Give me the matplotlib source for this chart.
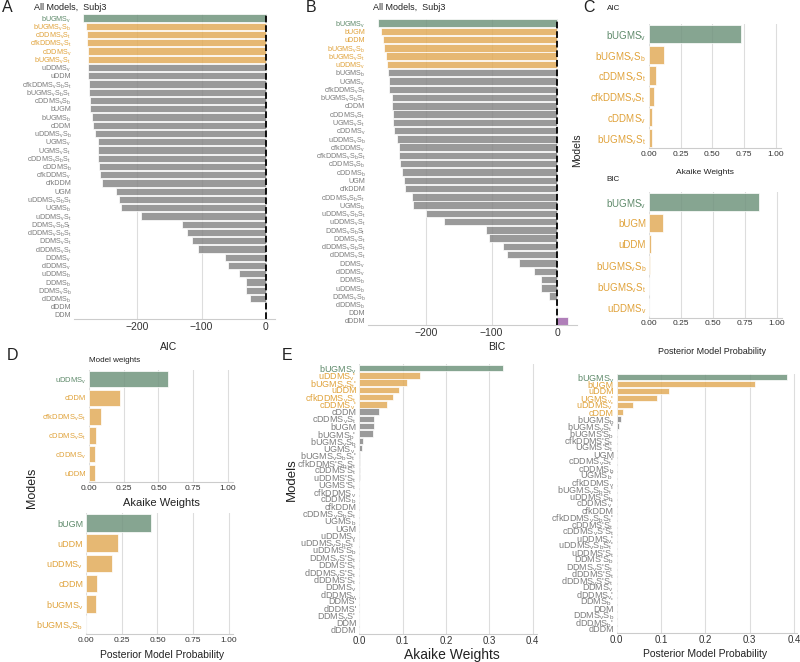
import re
import matplotlib
matplotlib.use("Agg")
import matplotlib.pyplot as plt

plt.rcParams['font.family'] = ['Liberation Sans', 'DejaVu Sans']
plt.rcParams['mathtext.fontset'] = 'custom'
plt.rcParams['mathtext.rm'] = 'Liberation Sans'
plt.rcParams['mathtext.it'] = 'Liberation Sans'
plt.rcParams['mathtext.default'] = 'regular'

# ---------------- data ----------------
a_models = ["bUGMS_v", "bUGMS_vS_b", "cDDMS_vS_t", "cfkDDMS_vS_t", "cDDMS_v", "bUGMS_vS_t",
            "uDDMS_v", "uDDM", "cfkDDMS_vS_bS_t", "bUGMS_vS_bS_t", "cDDMS_vS_b", "bUGM",
            "bUGMS_b", "cDDM", "uDDMS_vS_b", "UGMS_v", "UGMS_vS_t", "cDDMS_vS_bS_t",
            "cDDMS_b", "cfkDDMS_v", "cfkDDM", "UGM", "uDDMS_vS_bS_t", "UGMS_b",
            "uDDMS_vS_t", "DDMS_vS_bS_t", "dDDMS_vS_bS_t", "DDMS_vS_t", "dDDMS_vS_t",
            "DDMS_v", "dDDMS_v", "uDDMS_b", "DDMS_b", "DDMS_vS_b", "dDDMS_b", "dDDM", "DDM"]
a_aic = [-283.7, -279.6, -278.0, -278.0, -277.0, -277.0, -276.5, -275.5, -274.4, -274.4,
         -273.9, -273.4, -269.3, -268.7, -265.1, -261.5, -261.0, -261.0, -258.9, -257.4,
         -254.8, -233.0, -227.4, -225.8, -194.3, -130.7, -122.9, -115.2, -105.4, -64.1,
         -58.9, -41.9, -31.5, -30.5, -24.3, -1.0, 0.0]

b_models = ["bUGMS_v", "bUGM", "uDDM", "bUGMS_vS_b", "bUGMS_vS_t", "uDDMS_v", "bUGMS_b",
            "UGMS_v", "cfkDDMS_vS_t", "bUGMS_vS_bS_t", "cDDM", "cDDMS_vS_t", "UGMS_vS_t",
            "cDDMS_v", "uDDMS_vS_b", "cfkDDMS_v", "cfkDDMS_vS_bS_t", "cDDMS_vS_b", "cDDMS_b",
            "UGM", "cfkDDM", "cDDMS_vS_bS_t", "UGMS_b", "uDDMS_vS_bS_t", "uDDMS_vS_t",
            "DDMS_vS_bS_t", "DDMS_vS_t", "dDDMS_vS_bS_t", "dDDMS_vS_t", "DDMS_v", "dDDMS_v",
            "DDMS_b", "uDDMS_b", "DDMS_vS_b", "dDDMS_b", "DDM", "dDDM"]
b_bic = [-272.9, -268.8, -264.7, -263.7, -260.7, -259.7, -258.1, -256.6, -255.6, -252.0,
         -251.5, -250.5, -250.0, -249.0, -243.4, -241.4, -240.9, -239.8, -236.8, -233.7,
         -232.2, -220.5, -220.0, -199.2, -171.7, -107.7, -104.2, -82.3, -76.2, -58.9,
         -35.6, -24.9, -24.4, -12.7, -1.5, -0.5, 16.0]

c_aic_models = ["bUGMS_v", "bUGMS_vS_b", "cDDMS_vS_t", "cfkDDMS_vS_t", "cDDMS_v", "bUGMS_vS_t"]
c_aic_w = [0.727, 0.123, 0.055, 0.045, 0.026, 0.026]
c_bic_models = ["bUGMS_v", "bUGM", "uDDM", "bUGMS_vS_b", "bUGMS_vS_t", "uDDMS_v"]
c_bic_p = [0.861, 0.113, 0.013, 0.010, 0.002, 0.001]

d_aic_models = ["uDDMS_v", "cDDM", "cfkDDMS_vS_t", "cDDMS_vS_t", "cDDMS_v", "uDDM"]
d_aic_w = [0.568, 0.225, 0.084, 0.053, 0.043, 0.041]
d_bic_models = ["bUGM", "uDDM", "uDDMS_v", "cDDM", "bUGMS_v", "bUGMS_vS_b"]
d_bic_p = [0.453, 0.223, 0.181, 0.074, 0.072, 0.003]

e_aic_models = ["bUGMS_v", "uDDMS_v'", "bUGMS_vS_t'", "uDDM", "cfkDDMS_vS_t", "cDDMS_v'",
                "cDDM", "cDDMS_vS_t", "bUGM", "bUGMS_b'", "bUGMS_vS_b", "UGMS_v'",
                "bUGMS_vS_bS_t'", "cfkDDMS'S_bS_t", "cDDMS'S_t", "uDDMS'S_t", "UGMS'S_t",
                "cfkDDMS_v", "cDDMS_b", "cfkDDM", "cDDMS_vS_bS_t", "UGMS_b", "UGM", "uDDMS_v",
                "uDDMS_vS_bS_t'", "uDDMS'S_b", "DDMS_vS'S_t", "DDMS'S_t", "dDDMS_vS'S_t",
                "dDDMS'S_t", "DDMS_v", "dDDMS_v", "DDMS'", "dDDMS'", "DDMS_vS'", "DDM", "dDDM"]
e_aic_w = [0.332, 0.140, 0.109, 0.092, 0.077, 0.064, 0.045, 0.035, 0.035, 0.031, 0.0085,
           0.006, 0.0015, 0.001, 0.0006, 0.0005, 0.0004, 0.0003, 0.0002, 0.0002, 0.0001,
           0.0001, 0.0001, 0, 0, 0, 0, 0, 0, 0, 0, 0, 0, 0, 0, 0, 0]

e_bic_models = ["bUGMS_v", "bUGM", "uDDM", "UGMS_v'", "uDDMS_v'", "cDDM", "bUGMS_b",
                "bUGMS_vS_t'", "bUGMS'S_b", "cfkDDMS'S_t", "UGMS'S_t", "UGM", "cDDMS_vS_t'",
                "cDDMS_b", "UGMS_b'", "cfkDDMS_v", "bUGMS_vS_bS_t'", "uDDMS'S_b", "cDDMS_v'",
                "cfkDDM", "cfkDDMS_vS_bS_t'", "cDDMS'S_t", "cDDMS_vS'S_t", "uDDMS_v'",
                "uDDMS_vS_bS_t'", "uDDMS'S_t", "DDMS'S_b", "DDMS_vS'S_t", "dDDMS'S_t",
                "dDDMS_vS'S_t", "DDMS_v", "dDDMS_v'", "DDMS_b'", "DDM", "DDMS_vS_b",
                "dDDMS_b'", "dDDM"]
e_bic_p = [0.385, 0.312, 0.117, 0.091, 0.036, 0.0135, 0.009, 0.006, 0.001, 0.0008, 0.0005,
           0.0003, 0.0002, 0.0001, 0, 0, 0, 0, 0, 0, 0, 0, 0, 0, 0, 0, 0, 0, 0, 0, 0, 0, 0,
           0, 0, 0, 0]

# ---------------- style ----------------
GREEN = '#71957e'
ORANGE = '#e2ac5a'
GRAY = '#888888'
PURPLE = '#a369ad'
LG = '#5f8a6b'
LO = '#e0a23a'
LGR = '#7c7c7c'
ALPHA = 0.85

W, H = 800, 662
fig = plt.figure(figsize=(8, 6.62), dpi=100)


def fmt(s):
    return re.sub(r'_(\w)', r'$_{\1}$', s)


def axpx(l, t, r, b):
    return fig.add_axes([l / W, 1 - b / H, (r - l) / W, (b - t) / H])


def barpanel(ax, names, vals, xlim, xticks, xfmt, ysize, xsize, n_orange=5,
             last_purple=False, height=0.88):
    n = len(vals)
    cols, lcols = [], []
    for i in range(n):
        if i == 0:
            cols.append(GREEN); lcols.append(LG)
        elif i <= n_orange:
            cols.append(ORANGE); lcols.append(LO)
        else:
            cols.append(GRAY); lcols.append(LGR)
    if last_purple:
        cols[-1] = PURPLE
    ax.barh(range(n), vals, height=height, color=cols, alpha=ALPHA,
            edgecolor='white', linewidth=0.6, zorder=2)
    ax.set_ylim(n - 0.5, -0.5)
    ax.set_xlim(*xlim)
    ax.set_yticks(range(n))
    ax.set_yticklabels([fmt(s) for s in names], fontsize=ysize)
    for t, c in zip(ax.get_yticklabels(), lcols):
        t.set_color(c)
    ax.set_xticks(xticks)
    ax.set_xticklabels([xfmt(v) for v in xticks], fontsize=xsize, color='#333333')
    ax.tick_params(length=0, pad=2)
    for s in ['top', 'right', 'left']:
        ax.spines[s].set_visible(False)
    ax.spines['bottom'].set_color('#cccccc')
    ax.spines['bottom'].set_linewidth(0.8)
    ax.grid(axis='x', color='#dddddd', linewidth=0.8, zorder=0)
    ax.set_axisbelow(True)


def intfmt(v):
    return '\u2212%d' % abs(v) if v < 0 else '%d' % v


# Panel A
axA = axpx(74, 13.9, 275, 319.1)
barpanel(axA, a_models, a_aic, (-298, 14), [-200, -100, 0], intfmt, 5.2, 7.5, height=0.9)
axA.axvline(0, color='black', linestyle='--', linewidth=1.3, zorder=3)

# Panel B
axB = axpx(368, 18.9, 577, 325.1)
barpanel(axB, b_models, b_bic, (-288, 30), [-200, -100, 0], intfmt, 5.2, 7.5,
         last_purple=True, height=0.9)
axB.axvline(0, color='black', linestyle='--', linewidth=1.3, zorder=3)

f2 = lambda v: '%.2f' % v
f1 = lambda v: '%.1f' % v
q = [0, 0.25, 0.5, 0.75, 1.0]

# Panel C
axC1 = axpx(648.7, 23.6, 781, 148.4)
barpanel(axC1, c_aic_models, c_aic_w, (0, 1.039), q, f2, 7, 6)
axC2 = axpx(649, 191.5, 782, 317.5)
barpanel(axC2, c_bic_models, c_bic_p, (0, 1.039), q, f2, 7, 6)

# Panel D
axD1 = axpx(89, 369.6, 233, 482.4)
barpanel(axD1, d_aic_models, d_aic_w, (0, 1.036), q, f2, 5.5, 6)
axD2 = axpx(86, 513, 233, 634)
barpanel(axD2, d_bic_models, d_bic_p, (0, 1.028), q, f2, 6.5, 6)

# Panel E
axE1 = axpx(359.3, 364.4, 537, 633.6)
barpanel(axE1, e_aic_models, e_aic_w, (0, 0.41), [0, 0.1, 0.2, 0.3, 0.4], f1, 6.5, 7)
axE2 = axpx(616.7, 373.5, 797, 632.5)
barpanel(axE2, e_bic_models, e_bic_p, (0, 0.407), [0, 0.1, 0.2, 0.3, 0.4], f1, 6.5, 7)


def ft(x, y, s, size, ha='center', va='center', rot=0, color='#222222'):
    fig.text(x / W, 1 - y / H, s, fontsize=size, ha=ha, va=va, rotation=rot, color=color)


# panel letters
ft(2, 8, 'A', 11.5, ha='left')
ft(306, 8, 'B', 11.5, ha='left')
ft(583, 8, 'C', 11.5, ha='left')
ft(7, 355, 'D', 11.5, ha='left')
ft(282, 356, 'E', 11.5, ha='left')

# titles
ft(34, 7, 'All Models,  Subj3', 6.5, ha='left')
ft(373, 7, 'All Models,  Subj3', 6.5, ha='left')
ft(607, 9, 'AIC', 5.8, ha='left')
ft(606, 180, 'BIC', 5.8, ha='left')
ft(89, 360, 'Model weights', 5.8, ha='left')

# axis labels
ft(169, 347, 'AIC', 7.5)
ft(497, 347, 'BIC', 7.5)
ft(705, 173, 'Akaike Weights', 6)
ft(712, 352, 'Posterior Model Probability', 6.5)
ft(577, 150, 'Models', 7.5, rot=90)
ft(161, 503, 'Akaike Weights', 8)
ft(162, 655, 'Posterior Model Probability', 7.5)
ft(32, 488, 'Models', 9, rot=90)
ft(292, 480, 'Models', 9.5, rot=90)
ft(452, 655, 'Akaike Weights', 10)
ft(705, 654, 'Posterior Model Probability', 7.5)

fig.savefig('out.png', dpi=100)
